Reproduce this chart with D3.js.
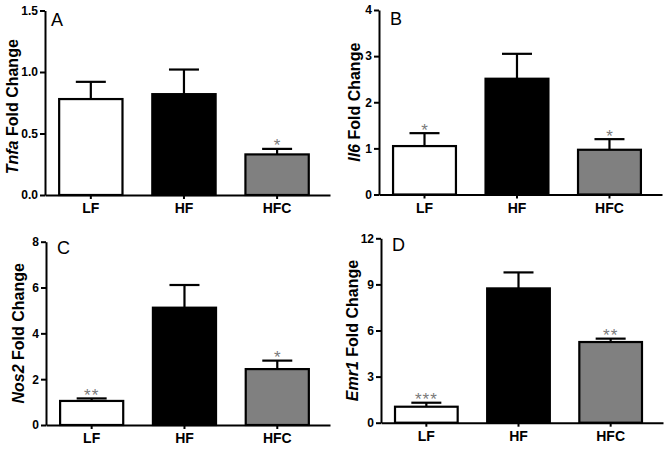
<!DOCTYPE html>
<html>
<head>
<meta charset="utf-8">
<script src="https://cdn.jsdelivr.net/npm/d3@7"></script>
<style>
  html, body { margin: 0; padding: 0; background: #fff; }
  svg { display: block; }
  text { font-family: Arial, "Liberation Sans", sans-serif; }
</style>
</head>
<body>
<svg id="chart" width="664" height="449"></svg>
<script>
// ---------------- data ----------------
const categories = ["LF", "HF", "HFC"];
const barColors = ["#ffffff", "#000000", "#808080"];

const panelLetters = ["A", "B", "C", "D"];
const geneNames = ["Tnfa", "Il6", "Nos2", "Emr1"];

const tnfaMean = [0.78, 0.82, 0.33];
const tnfaSem  = [0.14, 0.20, 0.045];
const tnfaSig  = ["", "", "*"];
const tnfaTicks = [0, 0.5, 1.0, 1.5];

const il6Mean = [1.05, 2.51, 0.97];
const il6Sem  = [0.28, 0.54, 0.23];
const il6Sig  = ["*", "", "*"];
const il6Ticks = [0, 1, 2, 3, 4];

const nos2Mean = [1.05, 5.12, 2.44];
const nos2Sem  = [0.11, 0.99, 0.37];
const nos2Sig  = ["**", "", "*"];
const nos2Ticks = [0, 2, 4, 6, 8];

const emr1Mean = [1.04, 8.74, 5.25];
const emr1Sem  = [0.26, 1.04, 0.22];
const emr1Sig  = ["***", "", "**"];
const emr1Ticks = [0, 3, 6, 9, 12];

const panels = [
  { mean: tnfaMean, sem: tnfaSem, sig: tnfaSig, ticks: tnfaTicks, fmt: d3.format(".1f") },
  { mean: il6Mean,  sem: il6Sem,  sig: il6Sig,  ticks: il6Ticks,  fmt: d3.format("d") },
  { mean: nos2Mean, sem: nos2Sem, sig: nos2Sig, ticks: nos2Ticks, fmt: d3.format("d") },
  { mean: emr1Mean, sem: emr1Sem, sig: emr1Sig, ticks: emr1Ticks, fmt: d3.format("d") }
];

// ---------------- layout ----------------
const layouts = [
  { axisX: 45,  xEnd: 330, yBottom: 195,   yTop: 10.5,  labelX: 12,  labelDY: 4, letterX: 51,  letterY: 26 },
  { axisX: 379, xEnd: 662, yBottom: 194.5, yTop: 10,    labelX: 354, labelDY: 0, letterX: 390, letterY: 25 },
  { axisX: 46,  xEnd: 330, yBottom: 425,   yTop: 241.7, labelX: 18,  labelDY: 0, letterX: 57,  letterY: 254 },
  { axisX: 381, xEnd: 663, yBottom: 422.7, yTop: 238.3, labelX: 352, labelDY: 0, letterX: 392, letterY: 251 }
];

const svg = d3.select("#chart");

panels.forEach((p, i) => {
  const L = layouts[i];
  const g = svg.append("g");
  const top = p.ticks[p.ticks.length - 1];

  const y = d3.scaleLinear().domain([0, top]).range([L.yBottom, L.yTop]);
  const x = d3.scaleBand().domain(categories).range([L.axisX, L.xEnd])
    .paddingInner(0.32).paddingOuter(0.19).align(0.4);

  // bars
  g.selectAll("rect.bar").data(categories).enter().append("rect")
    .attr("class", "bar")
    .attr("x", d => x(d))
    .attr("width", x.bandwidth())
    .attr("y", (d, k) => y(p.mean[k]))
    .attr("height", (d, k) => y(0) - y(p.mean[k]))
    .attr("fill", (d, k) => barColors[k])
    .attr("stroke", "#000")
    .attr("stroke-width", 2.2);

  // error bars
  const capW = 30;
  categories.forEach((c, k) => {
    const cx = x(c) + x.bandwidth() / 2;
    const yTopErr = y(p.mean[k] + p.sem[k]);
    g.append("line").attr("x1", cx).attr("x2", cx)
      .attr("y1", y(p.mean[k])).attr("y2", yTopErr)
      .attr("stroke", "#000").attr("stroke-width", 2.2);
    g.append("line").attr("x1", cx - capW / 2).attr("x2", cx + capW / 2)
      .attr("y1", yTopErr).attr("y2", yTopErr)
      .attr("stroke", "#000").attr("stroke-width", 2.2);
    if (p.sig[k]) {
      g.append("text")
        .attr("x", cx).attr("y", yTopErr + 2.5)
        .attr("text-anchor", "middle")
        .attr("fill", "#7a7a7a")
        .attr("font-size", 17)
        .attr("letter-spacing", p.sig[k].length > 1 ? 1 : 0)
        .text(p.sig[k]);
    }
  });

  // y axis
  const yAxis = d3.axisLeft(y).tickValues(p.ticks).tickFormat(p.fmt)
    .tickSize(5).tickSizeOuter(0).tickPadding(2);
  const ya = g.append("g").attr("transform", `translate(${L.axisX},0)`).call(yAxis);
  ya.select(".domain").attr("stroke", "#000").attr("stroke-width", 2);
  ya.selectAll(".tick line").attr("stroke", "#000").attr("stroke-width", 2);
  ya.selectAll(".tick text").attr("font-size", 12).attr("font-weight", "bold")
    .attr("font-family", "Arial, 'Liberation Sans', sans-serif").attr("fill", "#000");

  // x axis
  const xAxis = d3.axisBottom(x).tickSize(4).tickSizeOuter(0);
  const xa = g.append("g").attr("transform", `translate(0,${L.yBottom})`).call(xAxis);
  xa.select(".domain").attr("stroke", "#000").attr("stroke-width", 2);
  xa.selectAll(".tick line").attr("stroke", "#000").attr("stroke-width", 2);
  xa.selectAll(".tick text").attr("font-size", 14).attr("font-weight", "bold")
    .attr("font-family", "Arial, 'Liberation Sans', sans-serif").attr("fill", "#000")
    .attr("dy", null).attr("y", 18);

  // y label
  const midY = (L.yBottom + L.yTop) / 2 + L.labelDY;
  const lab = g.append("text")
    .attr("transform", `translate(${L.labelX},${midY}) rotate(-90)`)
    .attr("text-anchor", "middle")
    .attr("dy", "0.35em")
    .attr("font-size", 16).attr("font-weight", "bold").attr("fill", "#000");
  lab.append("tspan").attr("font-style", "italic").text(geneNames[i]);
  lab.append("tspan").text(" Fold Change");

  // panel letter
  g.append("text").attr("x", L.letterX).attr("y", L.letterY)
    .attr("font-size", 18).attr("fill", "#000").text(panelLetters[i]);
});
</script>
</body>
</html>
